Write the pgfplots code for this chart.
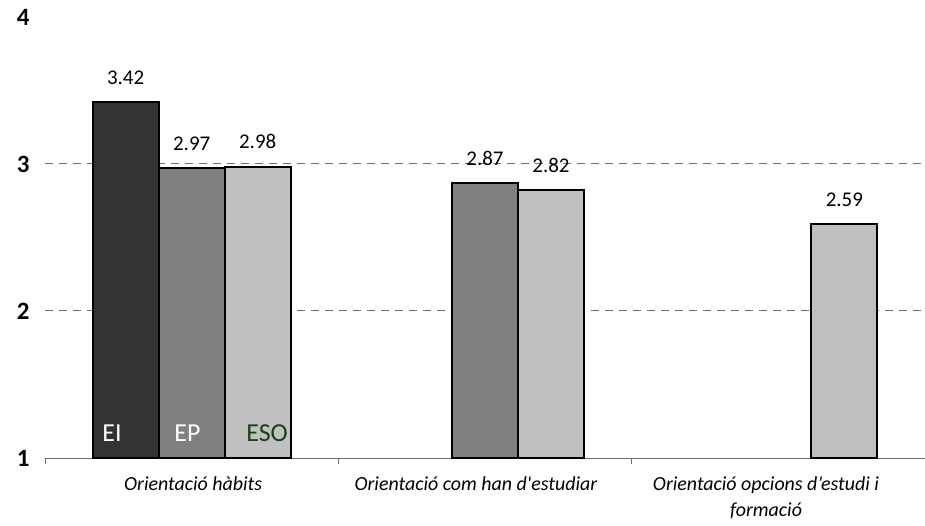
\documentclass[border=0pt]{standalone}
\usepackage{pgfplots}
\pgfplotsset{compat=1.18}
\usepackage{fontspec}
\setmainfont{Carlito}
\definecolor{ei}{HTML}{333333}
\definecolor{ep}{HTML}{808080}
\definecolor{eso}{HTML}{C0C0C0}
\definecolor{esotext}{RGB}{20,70,20}
\definecolor{gridgray}{HTML}{6F6F6F}
\newcommand{\yl}[1]{{\fontsize{25}{28}\selectfont\bfseries #1}}
\begin{document}
\begin{tikzpicture}
\useasboundingbox (-45bp,-68bp) rectangle (880bp,458bp);
\begin{axis}[
    scale only axis,
    width=880bp, height=441bp,
    xmin=-0.5, xmax=2.5,
    ymin=1, ymax=4,
    axis x line*=bottom,
    axis y line*=left,
    y axis line style={draw=none},
    x axis line style={draw=gridgray, line width=1bp, -},
    ytick={1,2,3,4},
    yticklabels={\yl{1},\yl{2},\yl{3},\yl{4}},
    ytick style={draw=none},
    yticklabel style={anchor=east, xshift=-12bp},
    xtick={0.005,0.969,1.958},
    xticklabels={Orientació hàbits, Orientació com han d\textquotesingle estudiar, Orientació opcions d’estudi i\\formació},
    xtick style={draw=none},
    xticklabel style={font=\fontsize{20}{26}\selectfont\itshape, align=center, anchor=north, yshift=-11bp},
    extra x ticks={-0.5,0.5,1.5,2.5},
    extra x tick labels={},
    extra x tick style={xtick style={draw=gridgray, line width=1bp}, major tick length=6bp, tick align=outside},
    extra y ticks={2,3},
    extra y tick labels={},
    extra y tick style={grid=major, ytick style={draw=none}},
    major grid style={draw=gridgray, line width=1bp, dash pattern=on 8bp off 6bp},
    ybar,
    bar width=66bp,
    clip=false,
    nodes near coords,
    every node near coord/.append style={font=\fontsize{21}{24}\selectfont, anchor=base, yshift=18bp},
    /pgf/number format/.cd, fixed, fixed zerofill, precision=2, assume math mode=true,
]
\addplot[fill=ei, draw=black, line width=2bp, bar shift=-66bp] coordinates {(0,3.42)};
\addplot[fill=ep, draw=black, line width=2bp, bar shift=0bp] coordinates {(0,2.97) (1,2.87)};
\addplot[fill=eso, draw=black, line width=2bp, bar shift=66bp] coordinates {(0,2.98) (1,2.82) (2,2.59)};
\node[anchor=base west, text=white, font=\fontsize{26}{30}\selectfont, inner sep=0pt, xshift=-89.5bp, yshift=17bp] at (axis cs:0,1) {EI};
\node[anchor=base west, text=white, font=\fontsize{26}{30}\selectfont, inner sep=0pt, xshift=-17.5bp, yshift=17bp] at (axis cs:0,1) {EP};
\node[anchor=base west, text=esotext, font=\fontsize{26}{30}\selectfont, inner sep=0pt, xshift=54.5bp, yshift=17bp] at (axis cs:0,1) {ESO};
\end{axis}
\end{tikzpicture}
\end{document}
